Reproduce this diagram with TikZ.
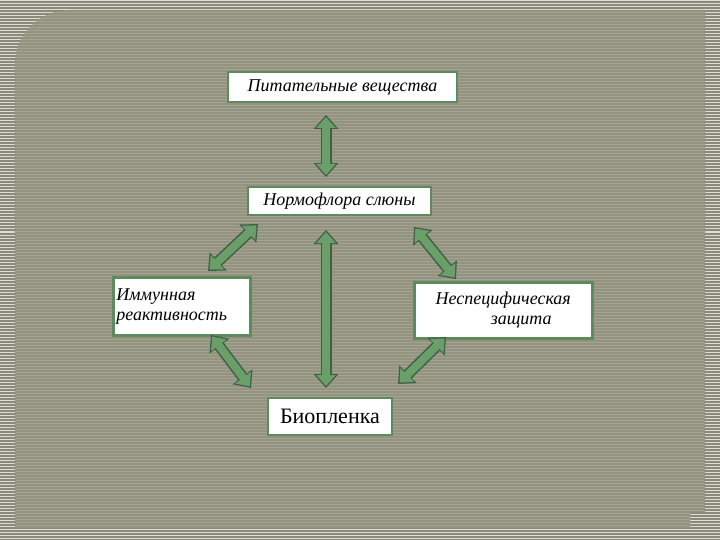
\documentclass[tikz,border=0pt]{standalone}
\usepackage{fontspec}
\setmainfont{Liberation Serif}
\usetikzlibrary{arrows.meta}
\definecolor{bgA}{HTML}{8A8A7A}
\definecolor{panel}{HTML}{93937F}
\definecolor{bord}{HTML}{5E8B5E}
\definecolor{agreen}{HTML}{6A9F6A}
\definecolor{adark}{HTML}{3F5F45}
\begin{document}
\begin{tikzpicture}[x=1pt,y=-1pt,
  box/.style={draw=bord,line width=2.5pt,fill=white,font=\itshape\fontsize{18}{20}\selectfont,inner sep=3pt},
  dbl/.style={line width=11pt,draw=adark,{Triangle[length=14pt,width=24pt]}-{Triangle[length=14pt,width=24pt]}},
  dbli/.style={line width=8pt,draw=agreen,shorten <=2pt,shorten >=2pt,{Triangle[length=11pt,width=19pt]}-{Triangle[length=11pt,width=19pt]}}]
\useasboundingbox (0,0) rectangle (720,540);
\fill[bgA] (0,0) rectangle (720,540);
\foreach \y in {1,4,...,540} \draw[white!70!bgA,line width=1pt] (0,\y) -- (720,\y);
\def\panelpath{(15,528) [rounded corners=55pt]-- (15,10) [sharp corners]-- (705,10) -- (705,512) -- (690,512) -- (690,528) -- cycle}
\fill[panel] \panelpath;
\begin{scope}
\clip \panelpath;
\foreach \y in {12,15,...,526} \draw[white!15!panel,line width=0.6pt] (16,\y) -- (704,\y);
\end{scope}
\node[box,minimum width=229pt,minimum height=30pt] (p) at (342.5,87) {Питательные вещества};
\node[box,minimum width=183pt,minimum height=28pt] (n) at (339.5,201) {Нормофлора слюны};
\node[box,text width=131pt,minimum height=58pt,align=left,anchor=north west,inner sep=3pt] (i) at (112,276) {Иммунная\\реактивность};
\node[box,text width=172pt,minimum height=56pt,align=center,anchor=north west] (s) at (413,281) {Неспецифическая\\\quad\quad защита};
\node[box,minimum width=124pt,minimum height=37pt,font=\fontsize{22}{24}\selectfont] (b) at (330,416.5) {Биопленка};
\coordinate (a1) at (326,115); \coordinate (a2) at (326,177);
\coordinate (c1) at (326,230); \coordinate (c2) at (326,388);
\coordinate (l1) at (258,224); \coordinate (l2) at (208,271);
\coordinate (r1) at (414,227); \coordinate (r2) at (456,279);
\coordinate (m1) at (211,335); \coordinate (m2) at (251,388);
\coordinate (q1) at (446,337); \coordinate (q2) at (398,384);
\foreach \u/\v in {a1/a2,c1/c2,l1/l2,r1/r2,m1/m2,q1/q2}{
  \draw[dbl] (\u) -- (\v);
  \draw[dbli] (\u) -- (\v);}
\end{tikzpicture}
\end{document}
